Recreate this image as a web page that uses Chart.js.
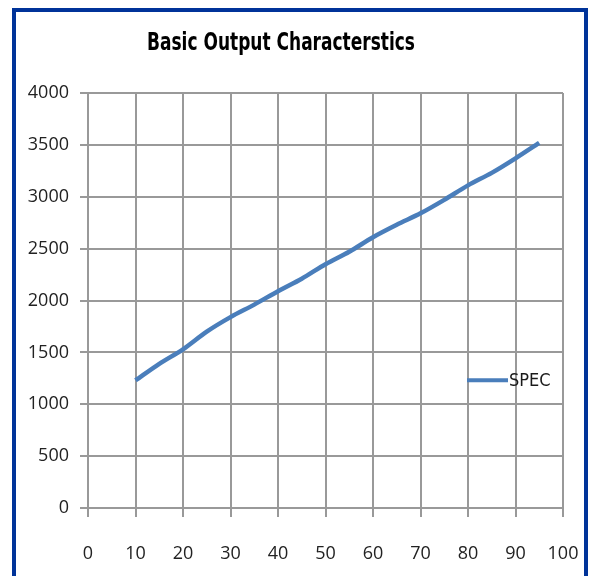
<!DOCTYPE html>
<html>
<head>
<meta charset="utf-8">
<script src="https://cdn.jsdelivr.net/npm/chart.js@4"></script>
<style>
  html, body { margin: 0; padding: 0; background: #fff; }
  #frame {
    position: absolute; left: 12px; top: 8px;
    width: 568px; height: 600px;
    border: 4px solid #003399; border-bottom: none;
  }
  #wrap { position: relative; width: 568px; height: 564px; }
</style>
</head>
<body>
<div id="frame"><div id="wrap"><canvas id="chart"></canvas></div></div>
<script>
const xValues = [10, 15, 20, 25, 30, 35, 40, 45, 50, 55, 60, 65, 70, 75, 80, 85, 90, 95];
const specValues = [1230, 1390, 1530, 1700, 1840, 1960, 2090, 2210, 2350, 2470, 2610, 2730, 2840, 2970, 3110, 3230, 3370, 3520];
const seriesName = "SPEC";
const chartTitle = "Basic Output Characterstics";

const axisFont = { family: "'Open Sans'", size: 18 };
const narrowFont = "'DejaVu Sans Condensed', 'Liberation Sans Narrow', sans-serif";
const gridColor = "#999999";

// title off-centre like the Excel original, squeezed to Calibri width
const titleText = {
  id: "titleText",
  afterDraw(chart) {
    const ctx = chart.ctx;
    ctx.save();
    ctx.fillStyle = "#000";
    ctx.font = "bold 24px " + narrowFont;
    ctx.textAlign = "center";
    ctx.textBaseline = "alphabetic";
    ctx.fillText(chartTitle, 265, 38, 268);
    ctx.restore();
  }
};

// Excel-style legend sitting inside the plot area
const legendInPlot = {
  id: "legendInPlot",
  afterDraw(chart) {
    const ctx = chart.ctx;
    const ds = chart.data.datasets[0];
    const area = chart.chartArea;
    const x0 = area.left + (area.right - area.left) * 0.8;
    const y0 = chart.scales.y.getPixelForValue(1232);
    ctx.save();
    ctx.strokeStyle = ds.borderColor;
    ctx.lineWidth = 4;
    ctx.beginPath();
    ctx.moveTo(x0 - 1, y0);
    ctx.lineTo(x0 + 40, y0);
    ctx.stroke();
    ctx.fillStyle = "#1a1a1a";
    ctx.font = "18px " + narrowFont;
    ctx.textBaseline = "middle";
    ctx.fillText(ds.label, x0 + 41, y0 + 1, 43);
    ctx.restore();
  }
};

new Chart(document.getElementById("chart"), {
  type: "line",
  data: {
    datasets: [{
      label: seriesName,
      data: xValues.map((x, i) => ({ x: x, y: specValues[i] })),
      borderColor: "#4a7ebb",
      borderWidth: 4.5,
      pointRadius: 0,
      tension: 0.3,
      fill: false
    }]
  },
  options: {
    responsive: true,
    maintainAspectRatio: false,
    animation: false,
    layout: { padding: { top: 81, left: 0, right: 0, bottom: 0 } },
    plugins: {
      legend: { display: false },
      tooltip: { enabled: false },
      title: { display: false }
    },
    scales: {
      x: {
        type: "linear",
        min: 0, max: 100,
        ticks: { stepSize: 10, color: "#222", font: axisFont, padding: 26, maxRotation: 0,
                 callback: (v) => String(v) },
        grid: { color: gridColor, lineWidth: 2, tickLength: 9, tickColor: gridColor },
        border: { color: gridColor, width: 2 },
        afterFit(s) { s.height = 68; s.paddingLeft = 0; s.paddingRight = 21; }
      },
      y: {
        min: 0, max: 4000,
        ticks: { stepSize: 500, color: "#222", font: axisFont, padding: 11,
                 callback: (v) => String(v) },
        grid: { color: gridColor, lineWidth: 2, tickLength: 8, tickColor: gridColor },
        border: { color: gridColor, width: 2 },
        afterFit(s) { s.width = 72; }
      }
    }
  },
  plugins: [titleText, legendInPlot]
});
</script>
</body>
</html>
